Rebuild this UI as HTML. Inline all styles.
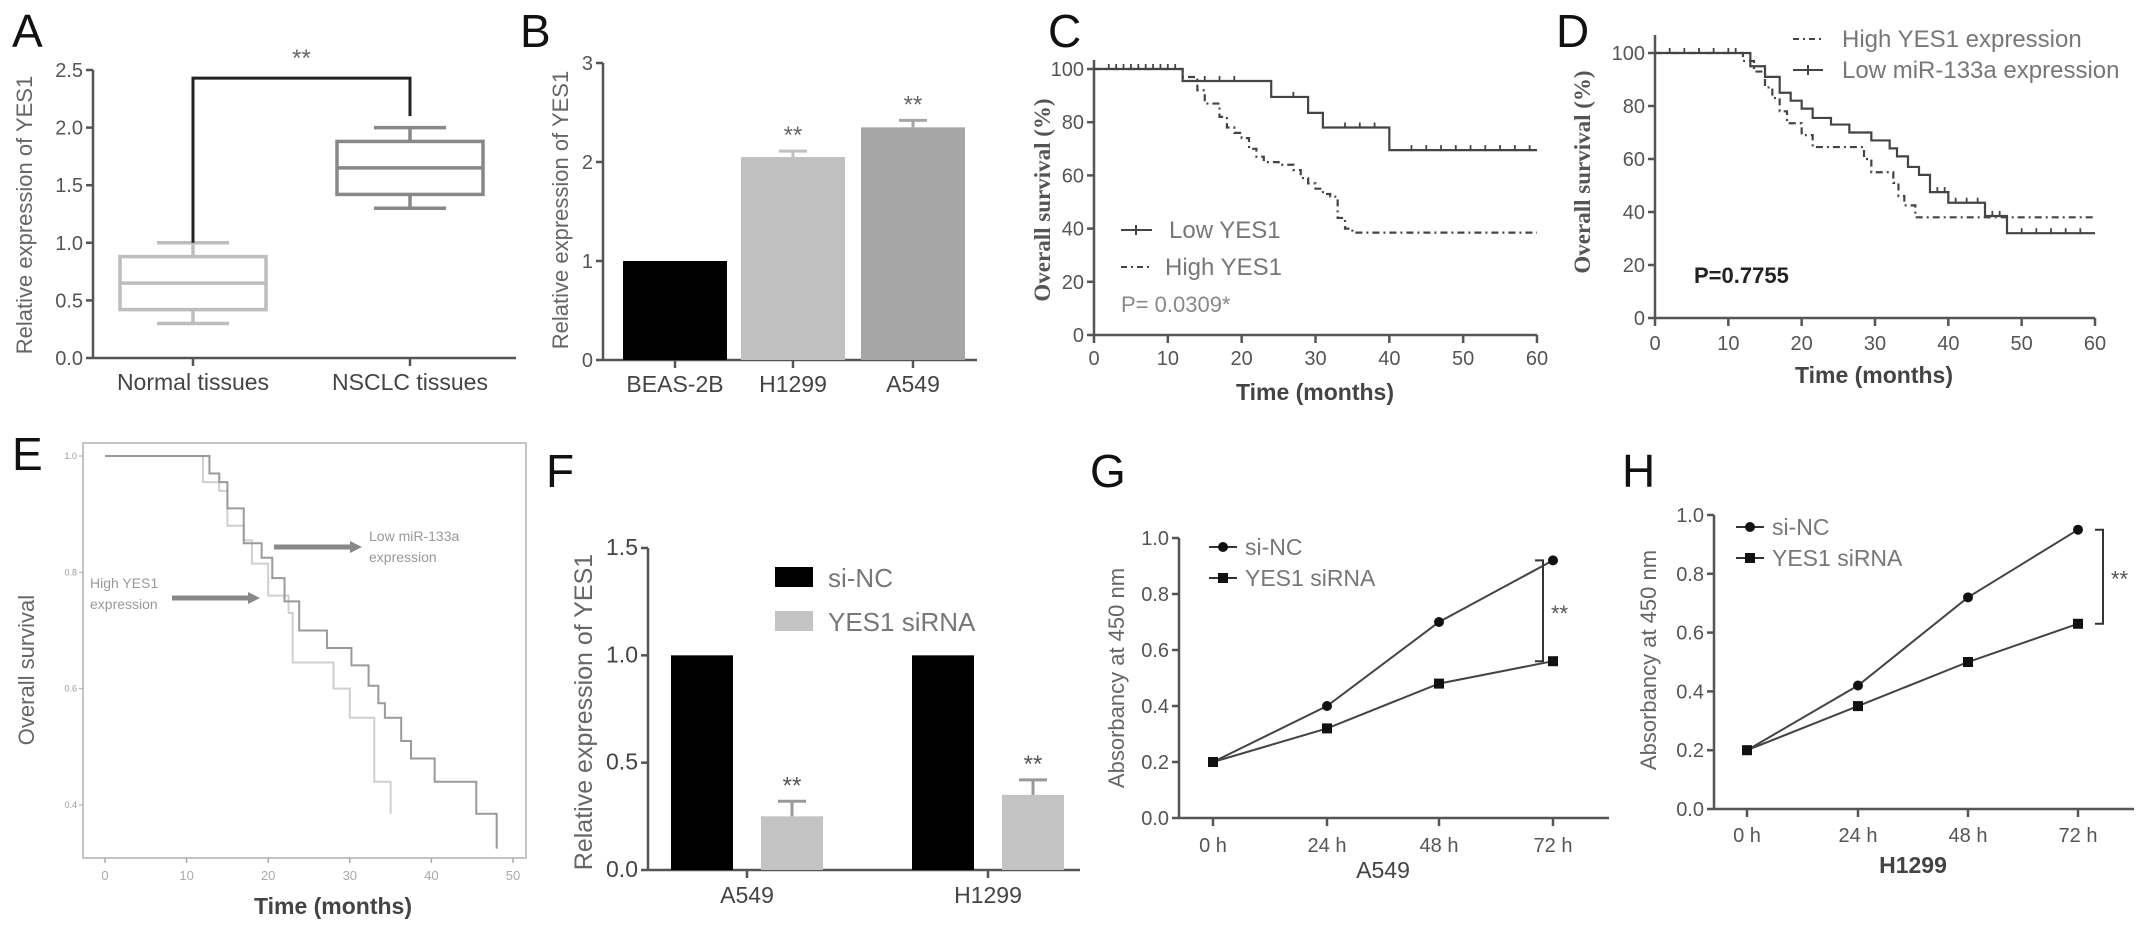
<!DOCTYPE html>
<html><head><meta charset="utf-8">
<style>
html,body{margin:0;padding:0;background:#fff;}
svg{display:block;}
text{font-family:"Liberation Sans Narrow","Liberation Sans",sans-serif;}
.lt{font-family:"Liberation Sans",sans-serif;font-size:46px;fill:#111;}
.ax{stroke:#555;stroke-width:2.5;fill:none;}
.tl{font-size:20px;fill:#555;}
.cat{font-size:23px;fill:#444;}
.yl{font-family:"Liberation Sans",sans-serif;font-size:22px;fill:#666;}
.sl{font-family:"Liberation Serif",serif;font-weight:bold;font-size:23px;fill:#555;}
</style></head>
<body>
<svg id="fig" xmlns="http://www.w3.org/2000/svg" width="2150" height="931" viewBox="0 0 2150 931">
<rect width="2150" height="931" fill="#fff"/>
<!-- panel letters -->
<text class="lt" x="12" y="47">A</text>
<text class="lt" x="520" y="47">B</text>
<text class="lt" x="1048" y="47">C</text>
<text class="lt" x="1556" y="47">D</text>
<text class="lt" x="12" y="470">E</text>
<text class="lt" x="546" y="487">F</text>
<text class="lt" x="1090" y="487">G</text>
<text class="lt" x="1622" y="487">H</text>
<!-- axis titles -->
<text class="yl" transform="rotate(-90 32 215)" x="32" y="215" text-anchor="middle">Relative expression of YES1</text>
<text class="yl" transform="rotate(-90 568 210)" x="568" y="210" text-anchor="middle">Relative expression of YES1</text>
<text class="sl" transform="rotate(-90 1050 200)" x="1050" y="200" text-anchor="middle">Overall survival (%)</text>
<text x="1315" y="400" text-anchor="middle" style="font-size:23px;fill:#444;font-weight:bold">Time (months)</text>
<text class="sl" transform="rotate(-90 1590 172)" x="1590" y="172" text-anchor="middle">Overall survival (%)</text>
<text x="1874" y="383" text-anchor="middle" style="font-size:23px;fill:#444;font-weight:bold">Time (months)</text>
<text class="yl" transform="rotate(-90 34 670)" x="34" y="670" text-anchor="middle">Overall survival</text>
<text x="333" y="914" text-anchor="middle" style="font-size:23px;fill:#444;font-weight:bold">Time (months)</text>
<text class="yl" transform="rotate(-90 592 712)" x="592" y="712" text-anchor="middle" style="font-size:25px">Relative expression of YES1</text>
<text class="yl" transform="rotate(-90 1124 678)" x="1124" y="678" text-anchor="middle">Absorbancy at 450 nm</text>
<text x="1383" y="878" text-anchor="middle" style="font-size:23px;fill:#444">A549</text>
<text class="yl" transform="rotate(-90 1656 660)" x="1656" y="660" text-anchor="middle">Absorbancy at 450 nm</text>
<text x="1913" y="873" text-anchor="middle" style="font-size:23px;fill:#444;font-weight:bold">H1299</text>
<!-- legends / annotations -->
<line x1="1121" y1="230" x2="1152" y2="230" stroke="#444" stroke-width="2"/>
<line x1="1136" y1="225" x2="1136" y2="235" stroke="#444" stroke-width="2"/>
<text x="1169" y="238" style="font-size:24px;fill:#777">Low  YES1</text>
<line x1="1121" y1="267" x2="1152" y2="267" stroke="#444" stroke-width="2" stroke-dasharray="6,4,2,4"/>
<text x="1165" y="275" style="font-size:24px;fill:#777">High  YES1</text>
<text x="1121" y="312" style="font-size:22px;fill:#888">P= 0.0309*</text>
<line x1="1793" y1="39" x2="1823" y2="39" stroke="#444" stroke-width="2" stroke-dasharray="6,4,2,4"/>
<text x="1842" y="47" style="font-size:24px;fill:#777">High  YES1 expression</text>
<line x1="1793" y1="70" x2="1823" y2="70" stroke="#444" stroke-width="2"/>
<line x1="1808" y1="65" x2="1808" y2="75" stroke="#444" stroke-width="2"/>
<text x="1842" y="78" style="font-size:24px;fill:#777">Low  miR-133a expression</text>
<text x="1694" y="283" style="font-size:22px;fill:#222;font-weight:bold">P=0.7755</text>
<rect x="83" y="443" width="443" height="415" fill="none" stroke="#c4c4c4" stroke-width="2"/>
<text x="369" y="541" style="font-size:14px;fill:#999">Low miR-133a</text>
<text x="369" y="562" style="font-size:14px;fill:#999">expression</text>
<line x1="274" y1="547" x2="352" y2="547" stroke="#888" stroke-width="5"/>
<polygon points="350,541 362,547 350,553" fill="#888"/>
<text x="90" y="588" style="font-size:14px;fill:#999">High YES1</text>
<text x="90" y="609" style="font-size:14px;fill:#999">expression</text>
<line x1="172" y1="598" x2="250" y2="598" stroke="#888" stroke-width="5"/>
<polygon points="248,592 260,598 248,604" fill="#888"/>
<rect x="775" y="567" width="38" height="20" fill="#000"/>
<text x="828" y="587" style="font-size:26px;fill:#777">si-NC</text>
<rect x="775" y="611" width="38" height="20" fill="#c3c3c3"/>
<text x="828" y="631" style="font-size:26px;fill:#777">YES1 siRNA</text>
<g id="plots"></g>
</svg>
<script>
// ---- data ----
const aCategories = ['Normal tissues', 'NSCLC  tissues'];
const aMin = [0.3, 1.3];
const aQ1 = [0.42, 1.42];
const aMedian = [0.65, 1.65];
const aQ3 = [0.88, 1.88];
const aMax = [1.0, 2.0];
const aTicks = ['0.0', '0.5', '1.0', '1.5', '2.0', '2.5'];
const bCategories = ['BEAS-2B', 'H1299', 'A549'];
const bValues = [1.0, 2.05, 2.35];
const bErrors = [0, 0.06, 0.07];
const bTicks = ['0', '1', '2', '3'];
const cLowTimes = [0, 12, 24, 29, 31, 40];
const cLowSurv = [100, 95.5, 89.5, 83.5, 78, 69.5];
const cLowCensor = [2, 3, 4, 5, 6, 7, 8, 9, 10, 11, 15, 17, 19, 27, 34, 36, 38, 43, 45, 47, 49, 51, 53, 55, 57, 59];
const cHighTimes = [0, 12, 14, 15, 17, 18, 19, 20, 21, 22, 23, 25, 27, 28, 29, 30, 31, 32, 33, 34, 35];
const cHighSurv = [100, 97, 92, 87, 82, 78, 76, 74, 70, 67, 65, 64, 62, 59, 57, 55, 53, 52, 44, 40, 38.5];
const survTicks = ['0', '20', '40', '60', '80', '100'];
const monthTicks = ['0', '10', '20', '30', '40', '50', '60'];
const dLowTimes = [0, 13, 15, 17, 18.5, 20, 21.5, 24, 26.5, 29.5, 32, 33, 34.5, 36, 37.5, 40, 45, 48];
const dLowSurv = [100, 95, 91, 85, 82, 79, 75.5, 73, 70, 67, 64, 61, 57, 54, 47.5, 43.5, 38.5, 32];
const dLowCensor = [2, 4, 6, 8, 10, 11, 38.5, 39.5, 41, 42.5, 44, 46, 47, 50, 52, 54, 56, 58];
const dHighTimes = [0, 12, 13.5, 15, 16, 17, 18, 20, 21.5, 28.5, 29.5, 32.5, 33.2, 34, 35.5];
const dHighSurv = [100, 97, 93, 87, 83, 78, 73.5, 69, 64.5, 60, 55, 51, 46, 42.5, 38];
const eHighTimes = [0, 12, 14, 15, 17, 18, 20, 22.5, 23, 28, 30, 33];
const eHighSurv = [1.0, 0.955, 0.94, 0.88, 0.855, 0.815, 0.76, 0.73, 0.645, 0.6, 0.55, 0.44];
const eHighEnd = [35, 0.385];
const eLowTimes = [0, 12.8, 14, 15, 17, 19.2, 20.5, 22, 23.8, 27.2, 30.2, 32.3, 33.5, 34.3, 36.3, 37.5, 40.4, 45.5];
const eLowSurv = [1.0, 0.97, 0.955, 0.91, 0.85, 0.825, 0.79, 0.75, 0.70, 0.67, 0.64, 0.605, 0.575, 0.55, 0.51, 0.48, 0.44, 0.385];
const eLowEnd = [48, 0.325];
const eYTicks = ['0.4', '0.6', '0.8', '1.0'];
const eXTicks = ['0', '10', '20', '30', '40', '50'];
const fCategories = ['A549', 'H1299'];
const fSiNC = [1.0, 1.0];
const fSiRNA = [0.25, 0.35];
const fSiRNAErr = [0.07, 0.07];
const fTicks = ['0.0', '0.5', '1.0', '1.5'];
const timeCategories = ['0 h', '24 h', '48 h', '72 h'];
const gSiNC = [0.2, 0.4, 0.7, 0.92];
const gSiRNA = [0.2, 0.32, 0.48, 0.56];
const hSiNC = [0.2, 0.42, 0.72, 0.95];
const hSiRNA = [0.2, 0.35, 0.5, 0.63];
const absTicks = ['0.0', '0.2', '0.4', '0.6', '0.8', '1.0'];

// ---- helpers ----
const NS = 'http://www.w3.org/2000/svg';
const root = document.getElementById('plots');
function mk(tag, attrs, parent) {
  const el = document.createElementNS(NS, tag);
  for (const k in attrs) el.setAttribute(k, attrs[k]);
  (parent || root).appendChild(el);
  return el;
}
function lin(d0, d1, r0, r1) { return v => r0 + (v - d0) * (r1 - r0) / (d1 - d0); }
function yAxis(x, y0, y1, ticks, ys, prefix, cls) {
  let el = mk('line', {x1: x, y1: y0, x2: x, y2: y1, class: 'ax'});
  
  
  ticks.forEach(t => {
    const y = ys(parseFloat(t));
    let tk = mk('line', {x1: x - 7, y1: y, x2: x, y2: y, class: 'ax'});
    
    
    let tx = mk('text', {x: x - 10, y: y + 7, 'text-anchor': 'end', class: cls || 'tl'});
    tx.textContent = t;
    
    
  });
}
function xAxisLine(x0, x1, y, prefix) {
  let el = mk('line', {x1: x0, y1: y, x2: x1, y2: y, class: 'ax'});
  
  
}
function xTick(x, y, label, prefix, cls, dy) {
  let tk = mk('line', {x1: x, y1: y, x2: x, y2: y + 8, class: 'ax'});
  
  
  let tx = mk('text', {x: x, y: y + dy, 'text-anchor': 'middle', class: cls || 'tl'});
  tx.textContent = label;
  
  
}
function stepD(times, surv, xs, ys, endT, endS) {
  let d = 'M' + xs(times[0]) + ',' + ys(surv[0]);
  for (let i = 1; i < times.length; i++) d += 'H' + xs(times[i]) + 'V' + ys(surv[i]);
  d += 'H' + xs(endT);
  if (endS !== undefined) d += 'V' + ys(endS);
  return d;
}
function survAt(times, surv, t) { let s = surv[0]; for (let i = 0; i < times.length; i++) if (times[i] <= t) s = surv[i]; return s; }

// ---- Panel A ----
{
  const ys = lin(0, 2.5, 358, 70);
  const cx = [193, 410];
  yAxis(93, 358, 70, aTicks, ys, 'a');
  xAxisLine(93, 516, 358, 'a');
  const cols = ['#bdbdbd', '#888'];
  aCategories.forEach((c, i) => {
    xTick(cx[i], 358, c, 'a', 'cat', 32);
    const g = mk('g', {stroke: cols[i], 'stroke-width': 3.5, fill: 'none'});
    
    
    mk('rect', {x: cx[i] - 73, y: ys(aQ3[i]), width: 146, height: ys(aQ1[i]) - ys(aQ3[i])}, g);
    mk('line', {x1: cx[i] - 73, y1: ys(aMedian[i]), x2: cx[i] + 73, y2: ys(aMedian[i])}, g);
    mk('line', {x1: cx[i], y1: ys(aQ3[i]), x2: cx[i], y2: ys(aMax[i])}, g);
    mk('line', {x1: cx[i], y1: ys(aQ1[i]), x2: cx[i], y2: ys(aMin[i])}, g);
    mk('line', {x1: cx[i] - 36, y1: ys(aMax[i]), x2: cx[i] + 36, y2: ys(aMax[i])}, g);
    mk('line', {x1: cx[i] - 36, y1: ys(aMin[i]), x2: cx[i] + 36, y2: ys(aMin[i])}, g);
  });
  const br = mk('path', {d: 'M' + cx[0] + ',' + ys(aMax[0]) + 'V' + ys(2.43) + 'H' + cx[1] + 'V' + ys(aMax[1] + 0.1), stroke: '#222', 'stroke-width': 3, fill: 'none'});
  
  
  const st = mk('text', {x: (cx[0] + cx[1]) / 2, y: 66, 'text-anchor': 'middle', style: 'font-size:24px;fill:#666'});
  st.textContent = '**';
  
  
}
// ---- Panel B ----
{
  const ys = lin(0, 3, 360, 63);
  const cx = [675, 793, 913];
  const cols = ['#000', '#c0c0c0', '#a6a6a6'];
  yAxis(603, 360, 63, bTicks, ys, 'b');
  xAxisLine(603, 977, 360, 'b');
  bCategories.forEach((c, i) => {
    const r = mk('rect', {x: cx[i] - 52, y: ys(bValues[i]), width: 104, height: 360 - ys(bValues[i]), fill: cols[i]});
    
    
    xTick(cx[i], 360, c, 'b', 'cat', 32);
    if (bErrors[i] > 0) {
      const e = mk('path', {d: 'M' + cx[i] + ',' + ys(bValues[i]) + 'V' + ys(bValues[i] + bErrors[i]) + 'M' + (cx[i] - 14) + ',' + ys(bValues[i] + bErrors[i]) + 'H' + (cx[i] + 14), stroke: cols[i], 'stroke-width': 3});
      
      
      const s = mk('text', {x: cx[i], y: ys(bValues[i] + bErrors[i]) - 8, 'text-anchor': 'middle', style: 'font-size:24px;fill:#666'});
      s.textContent = '**';
      
      
    }
  });
}
// ---- Panel C ----
{
  const xs = lin(0, 60, 1094, 1537), ys = lin(0, 100, 335, 69);
  yAxis(1094, 335, 60, survTicks, ys, 'c');
  xAxisLine(1094, 1537, 335, 'c');
  monthTicks.forEach(t => xTick(xs(+t), 335, t, 'c', 'tl', 30));
  const lo = mk('path', {d: stepD(cLowTimes, cLowSurv, xs, ys, 60), stroke: '#444', 'stroke-width': 2.2, fill: 'none'});
  
  
  cLowCensor.forEach(t => {
    const y = ys(survAt(cLowTimes, cLowSurv, t));
    const c = mk('line', {x1: xs(t), y1: y - 5, x2: xs(t), y2: y + 1, stroke: '#444', 'stroke-width': 1.8});
    
    
  });
  const hi = mk('path', {d: stepD(cHighTimes, cHighSurv, xs, ys, 60), stroke: '#444', 'stroke-width': 2.2, fill: 'none', 'stroke-dasharray': '7,4,2,4'});
  
  
}
// ---- Panel D ----
{
  const xs = lin(0, 60, 1655, 2095), ys = lin(0, 100, 318, 53);
  yAxis(1655, 318, 35, survTicks, ys, 'd');
  xAxisLine(1655, 2095, 318, 'd');
  monthTicks.forEach(t => xTick(xs(+t), 318, t, 'd', 'tl', 32));
  const lo = mk('path', {d: stepD(dLowTimes, dLowSurv, xs, ys, 60), stroke: '#444', 'stroke-width': 2.2, fill: 'none'});
  
  
  dLowCensor.forEach(t => {
    const y = ys(survAt(dLowTimes, dLowSurv, t));
    const c = mk('line', {x1: xs(t), y1: y - 5, x2: xs(t), y2: y + 1, stroke: '#444', 'stroke-width': 1.8});
    
    
  });
  const hi = mk('path', {d: stepD(dHighTimes, dHighSurv, xs, ys, 60), stroke: '#444', 'stroke-width': 2.2, fill: 'none', 'stroke-dasharray': '7,4,2,4'});
  
  
}
// ---- Panel E ----
{
  const xs = lin(0, 50, 105, 513), ys = lin(0.4, 1.0, 805, 456);
  eYTicks.forEach(t => {
    const y = ys(+t);
    const tk = mk('line', {x1: 79, y1: y, x2: 83, y2: y, stroke: '#aaa', 'stroke-width': 1});
    
    
    const tx = mk('text', {x: 77, y: y + 3, 'text-anchor': 'end', style: 'font-size:9px;fill:#999'});
    tx.textContent = t;
    
    
  });
  eXTicks.forEach(t => {
    const x = xs(+t);
    const tk = mk('line', {x1: x, y1: 858, x2: x, y2: 863, stroke: '#aaa', 'stroke-width': 1.5});
    
    
    const tx = mk('text', {x: x, y: 880, 'text-anchor': 'middle', style: 'font-size:13px;fill:#aaa'});
    tx.textContent = t;
    
    
  });
  const hi = mk('path', {d: stepD(eHighTimes, eHighSurv, xs, ys, eHighEnd[0], eHighEnd[1]), stroke: '#cfcfcf', 'stroke-width': 2, fill: 'none'});
  
  
  const lo = mk('path', {d: stepD(eLowTimes, eLowSurv, xs, ys, eLowEnd[0], eLowEnd[1]), stroke: '#9a9a9a', 'stroke-width': 2, fill: 'none'});
  
  
}
// ---- Panel F ----
{
  const ys = lin(0, 1.5, 870, 548);
  const cx = [747, 988];
  yAxis(648, 870, 548, fTicks, ys, 'f', 'cat');
  xAxisLine(648, 1080, 870, 'f');
  fCategories.forEach((c, i) => {
    xTick(cx[i], 870, c, 'f', 'cat', 33);
    const b1 = mk('rect', {x: cx[i] - 76, y: ys(fSiNC[i]), width: 62, height: 870 - ys(fSiNC[i]), fill: '#000'});
    
    
    const b2 = mk('rect', {x: cx[i] + 14, y: ys(fSiRNA[i]), width: 62, height: 870 - ys(fSiRNA[i]), fill: '#c3c3c3'});
    
    
    const ex = cx[i] + 45, top = ys(fSiRNA[i] + fSiRNAErr[i]);
    const e = mk('path', {d: 'M' + ex + ',' + ys(fSiRNA[i]) + 'V' + top + 'M' + (ex - 14) + ',' + top + 'H' + (ex + 14), stroke: '#999', 'stroke-width': 3});
    
    
    const s = mk('text', {x: ex, y: top - 8, 'text-anchor': 'middle', style: 'font-size:24px;fill:#555'});
    s.textContent = '**';
    
    
  });
}
// ---- Panels G & H ----
function growth(prefix, ax, xEnd, y0, y1, cxs, nc, si, legX, legY, brX, labelDy) {
  const ys = lin(0, 1.0, y0, y1);
  yAxis(ax, y0, y1, absTicks, ys, prefix);
  xAxisLine(ax, xEnd, y0, prefix);
  timeCategories.forEach((t, i) => xTick(cxs[i], y0, t, prefix, 'tl', labelDy));
  [[nc, 'sinc', 'circle'], [si, 'sirna', 'square']].forEach(([vals, nm, shape]) => {
    const d = vals.map((v, i) => (i ? 'L' : 'M') + cxs[i] + ',' + ys(v)).join('');
    const ln = mk('path', {d: d, stroke: '#444', 'stroke-width': 2, fill: 'none'});
    
    
    vals.forEach((v, i) => {
      const m = shape === 'circle' ? mk('circle', {cx: cxs[i], cy: ys(v), r: 5, fill: '#111'}) : mk('rect', {x: cxs[i] - 5, y: ys(v) - 5, width: 10, height: 10, fill: '#111'});
      
      
    });
  });
  const br = mk('path', {d: 'M' + (brX - 8) + ',' + ys(nc[3]) + 'H' + brX + 'V' + ys(si[3]) + 'H' + (brX - 8), stroke: '#333', 'stroke-width': 2, fill: 'none'});
  
  
  const s = mk('text', {x: brX + 8, y: (ys(nc[3]) + ys(si[3])) / 2 + 10, style: 'font-size:22px;fill:#555'});
  s.textContent = '**';
  
  
  // legend
  [['si-NC', 'circle'], ['YES1 siRNA', 'square']].forEach(([lab, shape], k) => {
    const yy = legY + k * 31;
    const l = mk('line', {x1: legX - 14, y1: yy, x2: legX + 14, y2: yy, stroke: '#333', 'stroke-width': 2});
    
    
    const m = shape === 'circle' ? mk('circle', {cx: legX, cy: yy, r: 5, fill: '#111'}) : mk('rect', {x: legX - 5, y: yy - 5, width: 10, height: 10, fill: '#111'});
    
    
    const t = mk('text', {x: legX + 22, y: yy + 8, style: 'font-size:23px;fill:#777'});
    t.textContent = lab;
    
    
  });
}
growth('g', 1179, 1609, 818, 538, [1213, 1327, 1439, 1553], gSiNC, gSiRNA, 1223, 547, 1543, 34);
growth('h', 1714, 2134, 809, 515, [1747, 1858, 1968, 2078], hSiNC, hSiRNA, 1750, 527, 2103, 33);
</script>
</body></html>
